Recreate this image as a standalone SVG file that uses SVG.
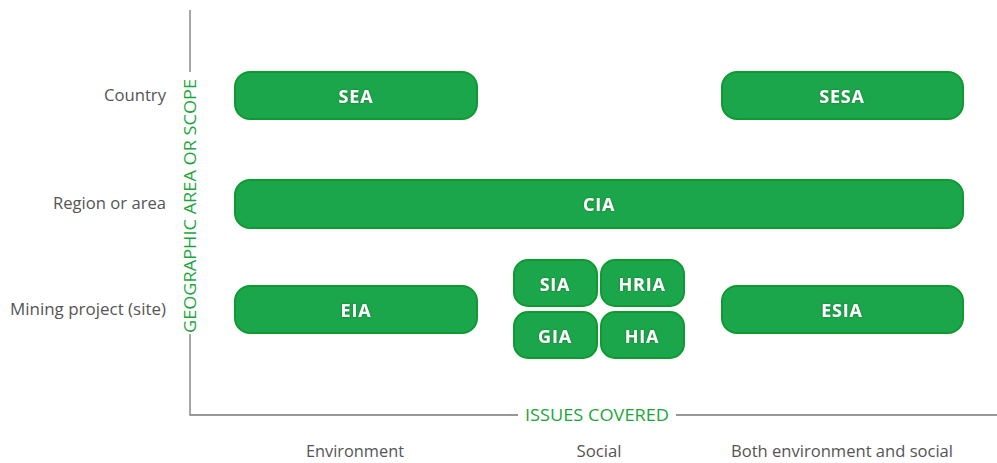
<svg xmlns="http://www.w3.org/2000/svg" width="997" height="463" viewBox="0 0 997 463">
<defs>
<filter id="glow" x="-20%" y="-50%" width="140%" height="200%">
<feGaussianBlur in="SourceAlpha" stdDeviation="1.2" result="b"/>
<feFlood flood-color="#0a6a20" flood-opacity="0.8"/>
<feComposite in2="b" operator="in" result="s"/>
<feMerge><feMergeNode in="s"/><feMergeNode in="SourceGraphic"/></feMerge>
</filter>
</defs>
<style>
.box{fill:#1ca64b;stroke:#0e9a30;stroke-width:2}
.bt{font-family:"Open Sans","Liberation Sans",sans-serif;font-weight:bold;font-size:18px;letter-spacing:0.8px;fill:#fff;text-anchor:middle;dominant-baseline:central;filter:url(#glow)}
.ax{stroke:#777;stroke-width:1.3;fill:none}
.lab{font-family:"Open Sans","Liberation Sans",sans-serif;font-size:16px;fill:#555}
.gl{font-family:"Open Sans","Liberation Sans",sans-serif;font-size:16px;fill:#1aa63a}
</style>
<rect width="997" height="463" fill="#fff"/>
<g id="axes">
<path class="ax" d="M190,10 V72 M190,334 V415 H518 M676,415 H997"/>
<text class="gl" transform="translate(196,206) rotate(-90)" text-anchor="middle" textLength="254" lengthAdjust="spacingAndGlyphs">GEOGRAPHIC AREA OR SCOPE</text>
<text class="gl" x="597" y="421" text-anchor="middle" textLength="144" lengthAdjust="spacingAndGlyphs">ISSUES COVERED</text>
</g>
<g id="ylabels">
<text class="lab" x="166" y="101" text-anchor="end" textLength="62" lengthAdjust="spacingAndGlyphs">Country</text>
<text class="lab" x="166" y="209" text-anchor="end" textLength="113" lengthAdjust="spacingAndGlyphs">Region or area</text>
<text class="lab" x="166" y="315" text-anchor="end" textLength="156" lengthAdjust="spacingAndGlyphs">Mining project (site)</text>
</g>
<g id="xlabels">
<text class="lab" x="355" y="457" text-anchor="middle" textLength="98" lengthAdjust="spacingAndGlyphs">Environment</text>
<text class="lab" x="599" y="457" text-anchor="middle" textLength="45" lengthAdjust="spacingAndGlyphs">Social</text>
<text class="lab" x="842" y="457" text-anchor="middle" textLength="222" lengthAdjust="spacingAndGlyphs">Both environment and social</text>
</g>
<g id="SEA"><rect class="box" x="235" y="72" width="242" height="47" rx="15"/><text class="bt" x="356" y="96">SEA</text></g>
<g id="SESA"><rect class="box" x="722" y="72" width="241" height="47" rx="15"/><text class="bt" x="842" y="96">SESA</text></g>
<g id="CIA"><rect class="box" x="235" y="180" width="728" height="48" rx="15"/><text class="bt" x="599" y="204">CIA</text></g>
<g id="EIA"><rect class="box" x="235" y="286" width="242" height="47" rx="15"/><text class="bt" x="356" y="310">EIA</text></g>
<g id="ESIA"><rect class="box" x="722" y="286" width="241" height="47" rx="15"/><text class="bt" x="842" y="310">ESIA</text></g>
<g id="SIA"><rect class="box" x="514" y="260" width="83" height="46" rx="14"/><text class="bt" x="555" y="284">SIA</text></g>
<g id="HRIA"><rect class="box" x="601" y="260" width="83" height="46" rx="14"/><text class="bt" x="642" y="284">HRIA</text></g>
<g id="GIA"><rect class="box" x="514" y="312" width="83" height="46" rx="14"/><text class="bt" x="555" y="336">GIA</text></g>
<g id="HIA"><rect class="box" x="601" y="312" width="83" height="46" rx="14"/><text class="bt" x="642" y="336">HIA</text></g>
</svg>
